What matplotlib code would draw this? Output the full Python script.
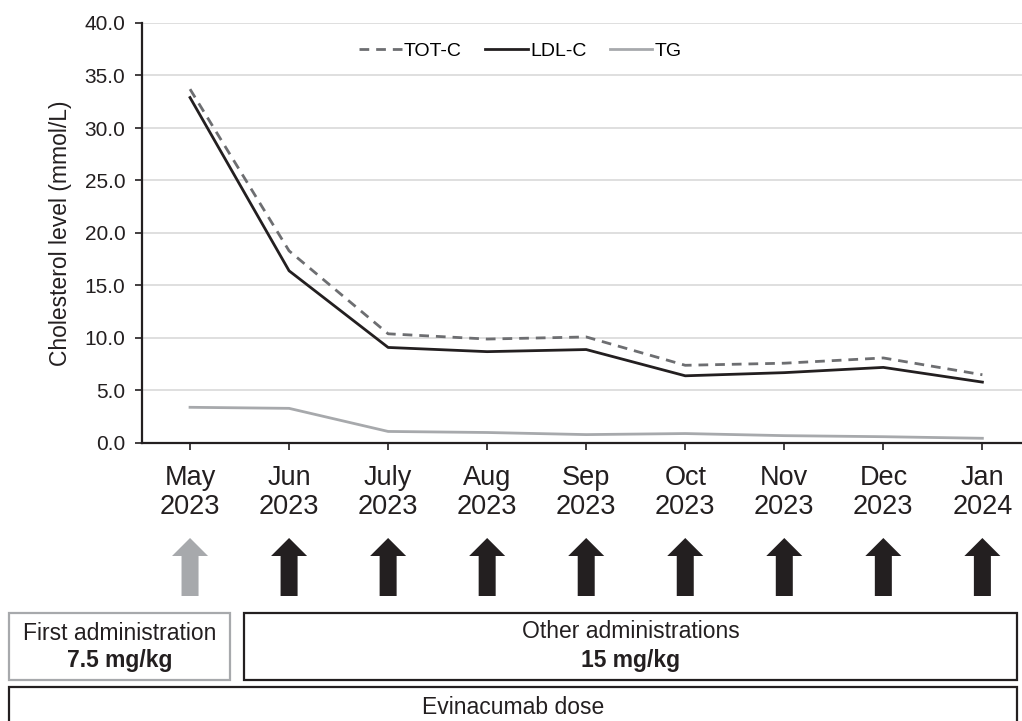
import matplotlib
matplotlib.use("Agg")
import matplotlib.pyplot as plt
from matplotlib.patches import Polygon, Rectangle
from matplotlib.transforms import blended_transform_factory

plt.rcParams['font.family'] = ['Liberation Sans', 'DejaVu Sans']

# data
months = ["May\n2023", "Jun\n2023", "July\n2023", "Aug\n2023", "Sep\n2023",
          "Oct\n2023", "Nov\n2023", "Dec\n2023", "Jan\n2024"]
tot_c = [33.7, 18.3, 10.4, 9.9, 10.1, 7.4, 7.6, 8.1, 6.5]
ldl_c = [32.9, 16.4, 9.1, 8.7, 8.9, 6.4, 6.7, 7.2, 5.8]
tg = [3.4, 3.3, 1.1, 1.0, 0.8, 0.9, 0.7, 0.6, 0.45]
dose_first = ["gray"] + ["black"] * 8

W, H = 1022, 721
fig = plt.figure(figsize=(W / 100, H / 100), dpi=100)
ax = fig.add_axes([142 / W, 1 - 443 / H, 880 / W, 420 / H])

x = list(range(len(months)))
ax.plot(x, tot_c, color="#6d6e71", lw=2.0, ls=(0, (3.5, 2.5)), label="TOT-C")
ax.plot(x, ldl_c, color="#231f20", lw=2.0, label="LDL-C")
ax.plot(x, tg, color="#a7a9ac", lw=2.0, label="TG")

ax.set_xlim(-0.485, 8.40)
ax.set_ylim(0, 40)
ax.set_yticks(range(0, 41, 5))
ax.set_yticklabels(["%.1f" % v for v in range(0, 41, 5)])
ax.set_xticks(x)
ax.set_xticklabels(months, linespacing=1.13)
ax.yaxis.grid(True, color="#d9d9d9", lw=1.2)
ax.set_axisbelow(True)
for s in ["top", "right"]:
    ax.spines[s].set_visible(False)
for s in ["left", "bottom"]:
    ax.spines[s].set_linewidth(1.6)
    ax.spines[s].set_color("#231f20")
ax.tick_params(axis="y", labelsize=15, length=5, width=1.2, pad=7, colors="#231f20")
ax.tick_params(axis="x", labelsize=19.5, length=5, width=1.2, pad=11, colors="#231f20")
ax.set_ylabel("Cholesterol level (mmol/L)", fontsize=16.5, color="#231f20", labelpad=9)

ax.legend(loc="upper center", bbox_to_anchor=(0.43, 0.995), ncol=3, frameon=False,
          fontsize=14, handlelength=2.2, handletextpad=0.1, columnspacing=1.2)

# dose arrows under each month
tr = blended_transform_factory(ax.transData, ax.transAxes)
top, neck, bot = (443 - 538) / 420, (443 - 556) / 420, (443 - 596) / 420
hw, sw = 18 / 99, 8.5 / 99
for i, c in zip(x, dose_first):
    col = "#a7a9ac" if c == "gray" else "#231f20"
    pts = [(i, top), (i + hw, neck), (i + sw, neck), (i + sw, bot),
           (i - sw, bot), (i - sw, neck), (i - hw, neck)]
    ax.add_patch(Polygon(pts, closed=True, transform=tr, clip_on=False,
                         facecolor=col, edgecolor="none"))

# boxes below, in pixel positions
def fx(px):
    return px / W

def fy(py):
    return 1 - py / H

def box(x0, x1, y0, y1, ec):
    fig.add_artist(Rectangle((fx(x0), fy(y1)), fx(x1) - fx(x0), fy(y0) - fy(y1),
                             transform=fig.transFigure, fill=False, ec=ec, lw=1.6))

box(9, 230, 613, 680, "#a7a9ac")
box(244, 1017, 613, 680, "#231f20")
box(9, 1017, 687, 730, "#231f20")

fig.text(fx(119.5), fy(633), "First administration", ha="center", va="center",
         fontsize=16.5, color="#231f20")
fig.text(fx(119.5), fy(661), "7.5 mg/kg", ha="center", va="center",
         fontsize=16.5, fontweight="bold", color="#231f20")
fig.text(fx(630.5), fy(631), "Other administrations", ha="center", va="center",
         fontsize=16.5, color="#231f20")
fig.text(fx(630.5), fy(661), "15 mg/kg", ha="center", va="center",
         fontsize=16.5, fontweight="bold", color="#231f20")
fig.text(fx(513), fy(707), "Evinacumab dose", ha="center", va="center",
         fontsize=16.5, color="#231f20")

fig.savefig("out.png", dpi=100)
